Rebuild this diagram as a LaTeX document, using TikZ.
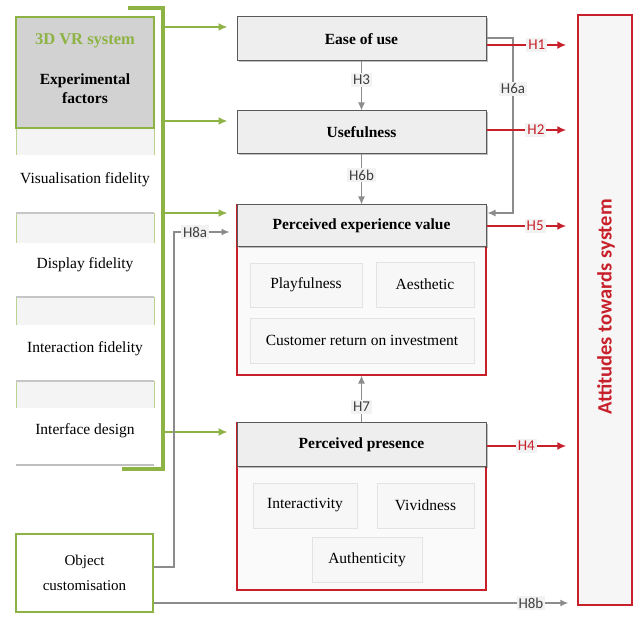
\documentclass[tikz,border=0pt]{standalone}
\usepackage{fontspec}
\setmainfont{Liberation Serif}
\newfontfamily\labfont{Carlito}
\usetikzlibrary{arrows.meta,shadows}
\definecolor{vrgreen}{RGB}{141,179,68}
\definecolor{vrred}{RGB}{200,32,42}
\definecolor{hdrgray}{RGB}{238,238,238}
\definecolor{expgray}{RGB}{210,210,210}
\definecolor{lgray}{RGB}{140,140,140}
\tikzset{
  hdr/.style={draw=gray!70!black, line width=1pt, fill=hdrgray, minimum width=249pt, inner sep=0pt,
    font=\fontsize{15.5}{18}\selectfont\bfseries,
    general shadow={shadow xshift=1.5pt, shadow yshift=-1.5pt, fill=black, opacity=0.25}},
  outerbox/.style={draw=vrred, line width=1.1pt, fill=gray!4, minimum width=249pt, inner sep=0pt},
  inbox/.style={draw=gray!22, fill=gray!6, inner sep=0pt, font=\fontsize{15.5}{18}\selectfont,
    general shadow={shadow xshift=1pt, shadow yshift=-1pt, fill=black, opacity=0.08}},
  factor/.style={font=\fontsize{15.5}{18}\selectfont, inner sep=0pt},
  lab/.style={fill=gray!10, inner sep=2pt, font=\labfont\fontsize{15}{17}\selectfont, text=black!75},
  rlab/.style={lab, text=vrred},
  garrow/.style={draw=vrgreen, line width=1.8pt, -{Latex[length=9pt,width=8pt]}},
  grarrow/.style={draw=lgray, line width=1.2pt, -{Latex[length=8pt,width=7pt]}},
  rarrow/.style={draw=vrred, line width=1.6pt, -{Latex[length=9pt,width=8pt]}},
}
\begin{document}
\begin{tikzpicture}[x=1pt,y=-1pt]
\useasboundingbox[fill=white] (0,0) rectangle (641,620);

% ---------- left column ----------
\foreach \ys/\ye in {128/155, 213/243, 297/325, 381/408}{
  \fill[gray!9] (16,\ys) rectangle (154,\ye);
  \draw[vrgreen!60, line width=0.8pt] (16,\ys) -- (16,\ye) (154,\ys) -- (154,\ye);
  \draw[gray!45, line width=1.4pt] (16,\ys) -- (154,\ys);
}
\draw[gray!50, line width=1.8pt] (16,465) -- (154,465);

\node[factor] (vis) at (85,180) {Visualisation fidelity};
\node[factor] (disp) at (85,265) {Display fidelity};
\node[factor] (inter) at (85,349) {Interaction fidelity};
\node[factor] (iface) at (85,431) {Interface design};

% experimental factors box
\node[draw=vrgreen, line width=2.2pt, fill=expgray, minimum width=138pt, minimum height=111pt, inner sep=0pt] (exp) at (85,72.5) {};
\node[text=vrgreen, font=\fontsize{16.5}{19}\selectfont\bfseries] (vr) at (85,41) {3D VR system};
\node[align=center, font=\fontsize{15.5}{19}\selectfont\bfseries] (ef) at (85,89) {Experimental\\factors};

% green bracket
\coordinate (bt) at (128,8);
\coordinate (btc) at (163,8);
\coordinate (bbc) at (163,469);
\coordinate (bb) at (122,469);
\draw[vrgreen, line width=3.2pt] (bt) -- (btc) -- (bbc) -- (bb);
\coordinate (b1) at (163,27);
\coordinate (b2) at (163,121);
\coordinate (b3) at (163,213);
\coordinate (b4) at (163,432);

% object customisation
\node[draw=vrgreen, line width=1.6pt, fill=white, minimum width=137pt, minimum height=78pt, align=center,
  font=\fontsize{15}{25}\selectfont, inner sep=0pt] (obj) at (84.5,573) {Object\\customisation};

% ---------- centre column ----------
\node[hdr, minimum height=44pt] (ease) at (361.5,39) {Ease of use};
\node[hdr, minimum height=43pt] (use) at (361.5,132.5) {Usefulness};

\node[outerbox, minimum height=170pt] (pevbox) at (361.5,290) {};
\node[hdr, minimum height=42pt] (pev) at (361.5,226) {Perceived experience value};
\node[inbox, minimum width=112pt, minimum height=44pt] (play) at (306,285) {Playfulness};
\node[inbox, minimum width=98pt, minimum height=45pt] (aes) at (425,284.5) {Aesthetic};
\node[inbox, minimum width=224pt, minimum height=45pt] (cri) at (362,340.5) {Customer return on investment};

\node[outerbox, minimum height=167pt] (ppbox) at (361.5,506.5) {};
\node[hdr, minimum height=44pt] (pp) at (361.5,445) {Perceived presence};
\node[inbox, minimum width=104pt, minimum height=45pt] (intv) at (305,505.5) {Interactivity};
\node[inbox, minimum width=97pt, minimum height=45pt] (viv) at (425.5,505.5) {Vividness};
\node[inbox, minimum width=110pt, minimum height=45pt] (auth) at (367,559.5) {Authenticity};

% ---------- right box ----------
\node[draw=vrred, line width=1.5pt, fill=gray!7, minimum width=54pt, minimum height=590pt, inner sep=0pt] (att) at (605,310) {};
\node[rotate=90, text=vrred, font=\labfont\fontsize{20.5}{23}\selectfont\bfseries] (attt) at (606,307) {Attitudes towards system};

% ---------- green arrows ----------
\draw[garrow] (b1) -- ([xshift=-9pt]ease.west |- b1);
\draw[garrow] (b2) -- ([xshift=-9pt]use.west |- b2);
\draw[garrow] (b3) -- ([xshift=-9pt]pev.west |- b3);
\draw[garrow] (b4) -- ([xshift=-9pt]pp.west |- b4);

% ---------- gray arrows ----------
\draw[grarrow] (ease.south) -- node[lab, pos=0.38] {H3} (use.north);
\draw[grarrow] (use.south) -- node[lab, pos=0.41] {H6b} (pev.north);
\draw[grarrow] (pp.north) -- node[lab, pos=0.33] {H7} (pevbox.south);

\coordinate (c6a) at (513,38);
\coordinate (c6b) at (513,213);
\draw[grarrow] (ease.east |- c6a) -- (c6a) -- node[lab, pos=0.29] {H6a} (c6b) -- ([xshift=1pt]pev.east |- c6b);

\coordinate (c8a) at (174,567);
\coordinate (c8b) at (174,232);
\draw[grarrow] (obj.east |- c8a) -- (c8a) -- (c8b) -- node[lab, pos=0.38] {H8a} ([xshift=-7pt]pev.west |- c8b);

\coordinate (c8c) at (160,603);
\draw[grarrow] (obj.east |- c8c) -- node[lab, pos=0.91] {H8b} ([xshift=-9pt]att.west |- c8c);

% ---------- red arrows ----------
\coordinate (r1) at (0,45);
\coordinate (r2) at (0,130);
\coordinate (r5) at (0,226);
\coordinate (r4) at (0,446);
\draw[rarrow] (ease.east |- r1) -- node[rlab, pos=0.63] {H1} ([xshift=-11pt]att.west |- r1);
\draw[rarrow] (use.east |- r2) -- node[rlab, pos=0.62] {H2} ([xshift=-11pt]att.west |- r2);
\draw[rarrow] (pev.east |- r5) -- node[rlab, pos=0.61] {H5} ([xshift=-11pt]att.west |- r5);
\draw[rarrow] (pp.east |- r4) -- node[rlab, pos=0.5] {H4} ([xshift=-11pt]att.west |- r4);
\end{tikzpicture}
\end{document}
